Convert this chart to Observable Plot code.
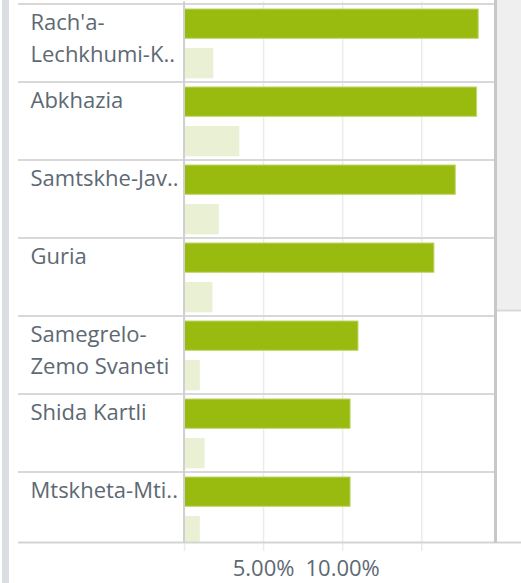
<!DOCTYPE html>
<html><head><meta charset="utf-8">
<style>html,body{margin:0;padding:0;background:#fff;overflow:hidden;}</style>
<script src="https://cdn.jsdelivr.net/npm/d3@7"></script>
<script src="https://cdn.jsdelivr.net/npm/@observablehq/plot@0.6"></script>
</head><body><div id="chart"></div>
<script>
const regions = ["Rach'a-Lechkhumi-Kvemo Svaneti", "Abkhazia", "Samtskhe-Javakheti", "Guria", "Samegrelo-Zemo Svaneti", "Shida Kartli", "Mtskheta-Mtianeti"];
const labels = ["Rach'a-\nLechkhumi-K..", "Abkhazia", "Samtskhe-Jav..", "Guria", "Samegrelo-\nZemo Svaneti", "Shida Kartli", "Mtskheta-Mti.."];
const seriesA = [18.6, 18.5, 17.15, 15.8, 11.0, 10.5, 10.5];
const seriesB = [1.85, 3.5, 2.2, 1.8, 1.0, 1.3, 1.0];
const gridTicks = [0, 5, 10, 15];
const labelTicks = [5, 10];

const rows = regions.map((r, i) => ({region: r, label: labels[i], a: seriesA[i], b: seriesB[i]}));

const W = 521, H = 583;
const textColor = "#5d6973";

const chart = Plot.plot({
  width: W, height: H,
  marginLeft: 184, marginRight: 27, marginTop: 1.5, marginBottom: 40,
  x: {domain: [0, 19.6], axis: null},
  y: {domain: regions, range: [1.5, 552.5], padding: 0, axis: null},
  style: {fontFamily: "'Open Sans', sans-serif", background: "#fff", overflow: "visible"},
  marks: [
    Plot.gridX(gridTicks, {stroke: "#ebebeb", strokeOpacity: 1, strokeWidth: 1.5}),
    Plot.axisX(gridTicks, {tickSize: 8, tickFormat: () => "", stroke: "#ebebeb", strokeWidth: 1.5, label: null}),
    Plot.barX(rows, {y: "region", x: "a", fill: "#99bb10", stroke: "#bfd66a", strokeWidth: 1, insetTop: 5, insetBottom: 43.7, clip: "frame"}),
    Plot.barX(rows, {y: "region", x: "b", fill: "#e9f0d3", insetTop: 44, insetBottom: 3.7, clip: "frame"}),
    Plot.text(rows, {y: "region", text: "label", frameAnchor: "left", dx: -154, dy: -36.5, textAnchor: "start", lineAnchor: "top", lineHeight: 1.45, fontSize: 22, fill: textColor}),
    Plot.axisX(labelTicks, {tickSize: 0, tickPadding: 17, tickFormat: d => d.toFixed(2) + "%", fontSize: 22, fill: textColor, label: null})
  ]
});

const svg = d3.select(chart);
const ys = chart.scale("y");
const xs = chart.scale("x");
const x0 = xs.apply(0);
const frameRight = W - 27;
const frameBottom = H - 40;

// chrome behind marks
const back = svg.insert("g", ":first-child");
back.append("rect").attr("x", 2).attr("y", 0).attr("width", 7).attr("height", H).attr("fill", "#dadde2");
back.append("rect").attr("x", 497).attr("y", 0).attr("width", 24).attr("height", 310).attr("fill", "#efefef");

const front = svg.append("g");
regions.forEach(r => {
  const y = ys.apply(r);
  front.append("line").attr("x1", 18).attr("x2", frameRight).attr("y1", y).attr("y2", y)
    .attr("stroke", "#d8d8d8").attr("stroke-width", 2);
});
front.append("line").attr("x1", 18).attr("x2", W).attr("y1", frameBottom - 0.5).attr("y2", frameBottom - 0.5)
  .attr("stroke", "#d4d4d4").attr("stroke-width", 2);
front.append("line").attr("x1", x0).attr("x2", x0).attr("y1", 1.5).attr("y2", frameBottom)
  .attr("stroke", "#d0d0d0").attr("stroke-width", 2);
front.append("line").attr("x1", 495.5).attr("x2", 495.5).attr("y1", 0).attr("y2", frameBottom)
  .attr("stroke", "#c8c8c8").attr("stroke-width", 3);
front.append("line").attr("x1", 497).attr("x2", W).attr("y1", 310.5).attr("y2", 310.5)
  .attr("stroke", "#d8d8d8").attr("stroke-width", 2);

document.getElementById("chart").appendChild(chart);
</script>
</body></html>
